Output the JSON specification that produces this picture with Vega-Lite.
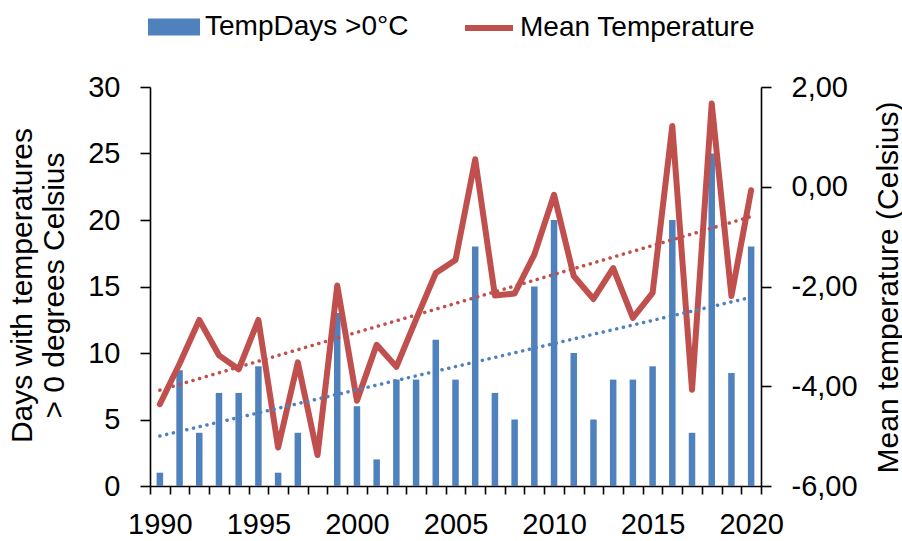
{
  "$schema": "https://vega.github.io/schema/vega-lite/v6.json",
  "width": 611,
  "height": 399,
  "autosize": {"type": "none"},
  "padding": {"left": 150, "top": 87, "right": 141, "bottom": 55},
  "background": "white",
  "config": {
    "view": {"stroke": null},
    "font": "Liberation Sans",
    "axis": {
      "labelFont": "Liberation Sans",
      "labelFontSize": 29,
      "labelColor": "#000000",
      "titleFont": "Liberation Sans",
      "titleFontSize": 30,
      "titleFontWeight": "normal",
      "titleColor": "#000000",
      "domainColor": "#000000",
      "domainWidth": 1.6,
      "tickColor": "#000000",
      "tickWidth": 1.6,
      "grid": false
    },
    "legend": {
      "labelFont": "Liberation Sans",
      "labelFontSize": 28,
      "labelColor": "#000000",
      "labelLimit": 0,
      "padding": 0
    }
  },
  "data": {
    "values": [
      {"year": 1990, "days": 1, "temp": -4.36},
      {"year": 1991, "days": 8.7, "temp": -3.55},
      {"year": 1992, "days": 4, "temp": -2.67},
      {"year": 1993, "days": 7, "temp": -3.38},
      {"year": 1994, "days": 7, "temp": -3.66},
      {"year": 1995, "days": 9, "temp": -2.67},
      {"year": 1996, "days": 1, "temp": -5.23},
      {"year": 1997, "days": 4, "temp": -3.52},
      {"year": 1998, "days": 0, "temp": -5.38},
      {"year": 1999, "days": 13, "temp": -1.98},
      {"year": 2000, "days": 6, "temp": -4.29},
      {"year": 2001, "days": 2, "temp": -3.17},
      {"year": 2002, "days": 8, "temp": -3.61},
      {"year": 2003, "days": 8, "temp": -2.66},
      {"year": 2004, "days": 11, "temp": -1.73},
      {"year": 2005, "days": 8, "temp": -1.47},
      {"year": 2006, "days": 18, "temp": 0.55},
      {"year": 2007, "days": 7, "temp": -2.18},
      {"year": 2008, "days": 5, "temp": -2.14},
      {"year": 2009, "days": 15, "temp": -1.36},
      {"year": 2010, "days": 20, "temp": -0.16},
      {"year": 2011, "days": 10, "temp": -1.79},
      {"year": 2012, "days": 5, "temp": -2.25},
      {"year": 2013, "days": 8, "temp": -1.63},
      {"year": 2014, "days": 8, "temp": -2.63},
      {"year": 2015, "days": 9, "temp": -2.13},
      {"year": 2016, "days": 20, "temp": 1.22},
      {"year": 2017, "days": 4, "temp": -4.07},
      {"year": 2018, "days": 25, "temp": 1.67},
      {"year": 2019, "days": 8.5, "temp": -2.19},
      {"year": 2020, "days": 18, "temp": -0.07}
    ]
  },
  "encoding": {
    "x": {
      "field": "year",
      "type": "ordinal",
      "scale": {"type": "band", "paddingInner": 0, "paddingOuter": 0},
      "axis": {
        "title": null,
        "labelAngle": 0,
        "tickBand": "extent",
        "tickSize": 8,
        "labelPadding": 16,
        "labelExpr": "datum.value % 5 == 0 ? datum.label : ''"
      }
    }
  },
  "layer": [
    {
      "mark": {"type": "bar", "size": 6.5},
      "encoding": {
        "y": {
          "field": "days",
          "type": "quantitative",
          "scale": {"domain": [0, 30], "nice": false, "zero": true},
          "axis": {
            "orient": "left",
            "values": [0, 5, 10, 15, 20, 25, 30],
            "tickSize": 10,
            "labelPadding": 20,
            "title": ["Days with temperatures", "> 0 degrees Celsius"],
            "titleAngle": -90,
            "titleAlign": "center",
            "titleBaseline": "top",
            "titleX": -143,
            "titleY": 198,
            "titleLineHeight": 32
          }
        },
        "color": {
          "datum": "TempDays >0°C",
          "type": "nominal",
          "scale": {"range": ["#4F81BD"]},
          "legend": {
            "title": null,
            "orient": "none",
            "legendX": -2,
            "legendY": -86,
            "symbolType": "M-1,-0.33H1V0.33H-1Z",
            "symbolSize": 2704,
            "symbolStrokeWidth": 0,
            "symbolOpacity": 1,
            "labelOffset": 5
          }
        }
      }
    },
    {
      "mark": {"type": "line", "strokeWidth": 6, "strokeJoin": "round", "strokeCap": "round"},
      "encoding": {
        "y": {
          "field": "temp",
          "type": "quantitative",
          "scale": {"domain": [-6, 2], "nice": false, "zero": false},
          "axis": {
            "orient": "right",
            "values": [-6, -4, -2, 0, 2],
            "tickSize": 10,
            "labelPadding": 20,
            "labelExpr": "(datum.value < 0 ? '-' : '') + replace(format(abs(datum.value), '.2f'), '.', ',')",
            "title": "Mean temperature (Celsius)",
            "titleAngle": -90,
            "titleAlign": "center",
            "titleBaseline": "top",
            "titleX": 112,
            "titleY": 200
          }
        },
        "color": {
          "datum": "Mean Temperature",
          "type": "nominal",
          "scale": {"range": ["#C0504D"]},
          "legend": {
            "title": null,
            "orient": "none",
            "legendX": 312,
            "legendY": -86,
            "symbolType": "stroke",
            "symbolSize": 2304,
            "symbolStrokeWidth": 6,
            "labelOffset": 4
          }
        }
      }
    },
    {
      "transform": [{"regression": "days", "on": "year"}],
      "mark": {"type": "line", "color": "#4F81BD", "strokeWidth": 3.5, "strokeDash": [0.1, 6.8], "strokeCap": "round"},
      "encoding": {
        "y": {
          "field": "days",
          "type": "quantitative",
          "scale": {"domain": [0, 30], "nice": false, "zero": true},
          "axis": null
        }
      }
    },
    {
      "transform": [{"regression": "temp", "on": "year"}],
      "mark": {"type": "line", "color": "#C0504D", "strokeWidth": 3.5, "strokeDash": [0.1, 6.8], "strokeCap": "round"},
      "encoding": {
        "y": {
          "field": "temp",
          "type": "quantitative",
          "scale": {"domain": [-6, 2], "nice": false, "zero": false},
          "axis": null
        }
      }
    }
  ],
  "resolve": {
    "scale": {"y": "independent", "color": "independent"},
    "legend": {"color": "independent"}
  }
}
